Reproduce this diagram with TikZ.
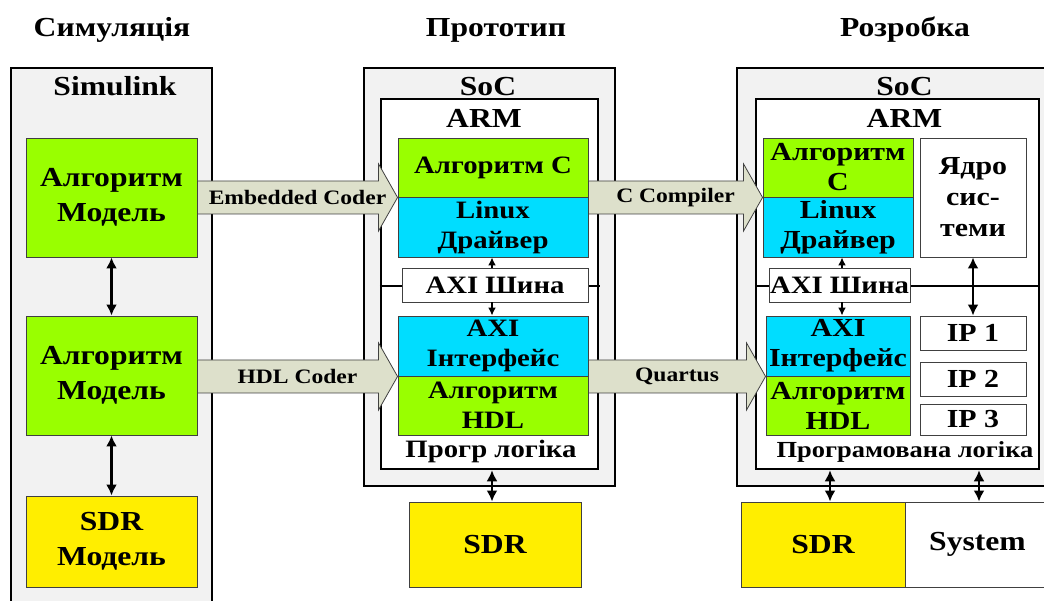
\documentclass[tikz,border=0pt]{standalone}
\usepackage{fontspec}
\setmainfont{Liberation Serif}[FakeStretch=1.15]
\usetikzlibrary{arrows.meta,calc}
\definecolor{grn}{HTML}{99FF00}
\definecolor{cyn}{HTML}{00DDFF}
\definecolor{ylw}{HTML}{FFEE00}
\definecolor{pnl}{HTML}{F2F2F2}
\definecolor{arw}{HTML}{DDE0CB}
\definecolor{bdr}{HTML}{404040}
\newcommand\fatarr[4]{%
  \path (#1 |- #2) coordinate (#4s);
  \draw[fat] ($(#4s)+(0,-16.5)$) -- ($(#2)+(-19,-16.5)$) -- ($(#2)+(-19,-33.5)$) -- (#2)
    -- ($(#2)+(-19,33.5)$) -- ($(#2)+(-19,16.5)$) -- ($(#4s)+(0,16.5)$) -- cycle;
  \node[sml] (#4) at ($(#4s)!0.5!(#2)$) {#3};
}
\begin{document}
\begin{tikzpicture}[x=1pt,y=-1pt,
  ttl/.style={font=\fontsize{27.5}{35}\selectfont\bfseries},
  big/.style={font=\fontsize{27.5}{35}\selectfont\bfseries},
  med/.style={font=\fontsize{25}{30}\selectfont\bfseries},
  rmed/.style={font=\fontsize{26}{30}\selectfont\bfseries},
  sml/.style={font=\fontsize{20.5}{24}\selectfont\bfseries},
  panel/.style={draw=black, fill=pnl, line width=2.5pt, inner sep=0pt},
  inner/.style={draw=black, fill=white, line width=2.5pt, inner sep=0pt},
  box/.style={draw=bdr, line width=0.9pt, inner sep=0pt, align=center},
  fat/.style={draw=bdr, line width=0.8pt, fill=arw, line join=miter},
  conn/.style={line width=2.5pt, {Latex[length=11pt,width=11pt]}-{Latex[length=11pt,width=11pt]}},
  sconn/.style={line width=2pt, -{Latex[length=8pt,width=8pt]}},
  bus/.style={line width=2pt}
]
\clip (0,0) rectangle (1044,601);
\fill[white] (0,0) rectangle (1044,601);

% titles
\node[ttl, anchor=base] (t1) at (112,37) {Симуляція};
\node[ttl, anchor=base] (t2) at (496,37) {Прототип};
\node[ttl, anchor=base] (t3) at (905,37) {Розробка};

% panels
\node[panel, minimum width=201, minimum height=537] (simP) at (111.5,336.5) {};
\node[panel, minimum width=251, minimum height=418] (mOut) at (489.5,277) {};
\node[inner, minimum width=217, minimum height=370] (mIn) at (489.5,284) {};
\node[panel, minimum width=313, minimum height=418] (rOut) at (893.5,277) {};
\node[inner, minimum width=283, minimum height=370] (rIn) at (897.5,284) {};

\node[big, anchor=base] (simL) at (115,96) {Simulink};
\node[big, anchor=base] (mSoC) at (488,96) {SoC};
\node[big, anchor=base] (mARM) at (484,128) {ARM};
\node[big, anchor=base] (rSoC) at (904.5,96) {SoC};
\node[big, anchor=base] (rARM) at (904.5,128) {ARM};
\node[med, anchor=base] (mPL) at (491,457) {Прогр логіка};
\node[font=\fontsize{23}{26}\selectfont\bfseries, anchor=base] (rPL) at (905,457) {Програмована логіка};

% left boxes
\node[box, big, fill=grn, minimum width=171, minimum height=119] (lg1) at (111.5,197.5) {Алгоритм\\Модель};
\node[box, big, fill=grn, minimum width=171, minimum height=119] (lg2) at (111.5,375.5) {Алгоритм\\Модель};
\node[box, big, fill=ylw, minimum width=171, minimum height=91] (ly) at (111.5,541.5) {SDR\\Модель};

% middle
\node[box, med, fill=grn, minimum width=190, minimum height=59] (mC) at (493,167.5) {Алгоритм C};
\node[box, med, fill=cyn, minimum width=190, minimum height=60] (mLD) at (493,227) {Linux\\Драйвер};
\draw[bus] (mIn.west |- 0,286) -- (402,286);
\draw[bus] (588,286) -- (600,286);
\node[box, med, fill=white, minimum width=186, minimum height=34] (mAXI) at (495,285) {AXI Шина};
\node[box, med, fill=cyn, minimum width=190, minimum height=60] (mAI) at (493,346) {AXI\\Інтерфейс};
\node[box, med, fill=grn, minimum width=190, minimum height=59] (mHDL) at (493,405.5) {Алгоритм\\HDL};
\node[box, big, fill=ylw, minimum width=172, minimum height=85] (mSDR) at (495,544.5) {SDR};

% right
\node[box, rmed, fill=grn, minimum width=150, minimum height=59] (rC) at (838,167.5) {Алгоритм\\C};
\node[box, rmed, fill=cyn, minimum width=150, minimum height=60] (rLD) at (838,227) {Linux\\Драйвер};
\node[box, fill=white, minimum width=106, minimum height=119, font=\fontsize{26}{31}\selectfont\bfseries] (rK) at (973,197.5) {Ядро\\сис-\\теми};
\draw[bus] (rIn.west |- 0,286) -- (769,286);
\draw[bus] (910,286) -- (rIn.east |- 0,286);
\node[box, med, fill=white, minimum width=141, minimum height=34] (rAXI) at (839.5,285) {AXI Шина};
\node[box, rmed, fill=cyn, minimum width=144, minimum height=60] (rAI) at (838,346) {AXI\\Інтерфейс};
\node[box, rmed, fill=grn, minimum width=144, minimum height=59] (rHDL) at (838,405.5) {Алгоритм\\HDL};
\node[box, rmed, fill=white, minimum width=106, minimum height=34] (ip1) at (973,333) {IP 1};
\node[box, rmed, fill=white, minimum width=106, minimum height=34] (ip2) at (973,379) {IP 2};
\node[box, rmed, fill=white, minimum width=106, minimum height=31] (ip3) at (973,419.5) {IP 3};
\node[box, big, fill=ylw, minimum width=164, minimum height=85] (rSDR) at (823,544.5) {SDR};
\node[box, big, fill=white, minimum width=145, minimum height=85] (rSys) at (977.5,544.5) {System};

% fat arrows
\fatarr{lg1.east}{mC.south west}{Embedded Coder}{fa1}
\fatarr{lg2.east}{mAI.south west}{HDL Coder}{fa2}
\fatarr{mC.south east}{rC.south west}{C Compiler}{fa3}
\fatarr{mAI.south east}{rAI.south west}{Quartus}{fa4}

% connectors
\draw[conn] (lg1.south) -- (lg2.north);
\draw[conn] (lg2.south) -- (ly.north);
\draw[sconn] ([xshift=-3]mAXI.north) -- ([xshift=-3]mAXI.north |- mLD.south);
\draw[sconn] ([xshift=-3]mAXI.south) -- ([xshift=-3]mAXI.south |- mAI.north);
\draw[sconn] ([xshift=2.5]rAXI.north) -- ([xshift=2.5]rAXI.north |- rLD.south);
\draw[sconn] ([xshift=2.5]rAXI.south) -- ([xshift=2.5]rAXI.south |- rAI.north);
\draw[conn] (rK.south) -- (ip1.north);
\draw[conn] ([xshift=-3]mSDR.north |- mIn.south) -- ([xshift=-3]mSDR.north);
\draw[conn] ([xshift=7]rSDR.north |- rIn.south) -- ([xshift=7]rSDR.north);
\draw[conn] ([xshift=1.5]rSys.north |- rIn.south) -- ([xshift=1.5]rSys.north);
\end{tikzpicture}
\end{document}
